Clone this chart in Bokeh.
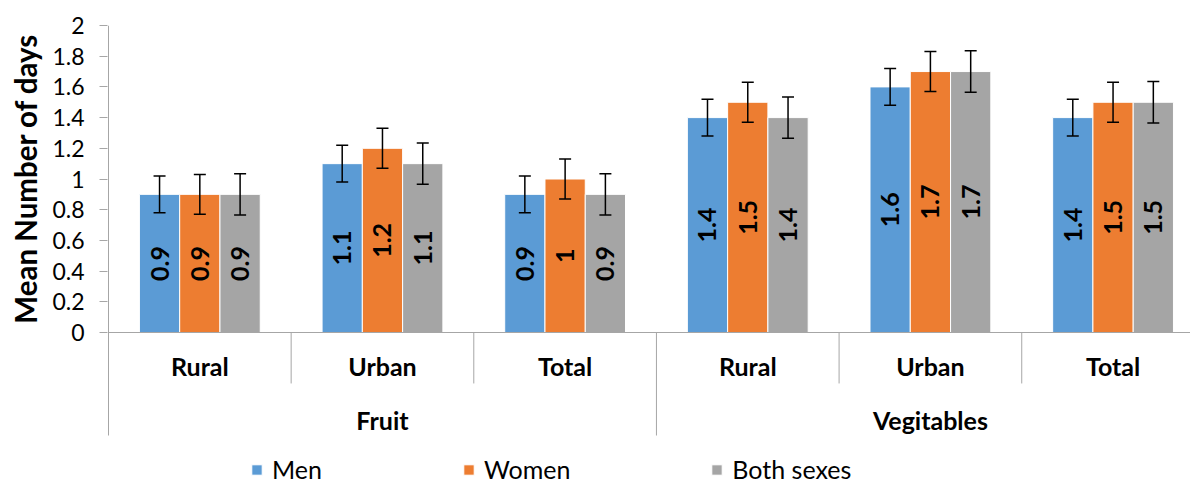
from bokeh.plotting import figure
from bokeh.models import (Range1d, ColumnDataSource, FixedTicker, Whisker, TeeHead,
                          Legend, LegendItem, Title)
from bokeh.core.properties import value
from bokeh.embed import file_html
from bokeh.resources import INLINE

# ---- data ----
categories = ["Rural", "Urban", "Total", "Rural", "Urban", "Total"]
groups = ["Fruit", "Vegitables"]
group_sizes = [3, 3]
series_names = ["Men", "Women", "Both sexes"]
men = [0.9, 1.1, 0.9, 1.4, 1.6, 1.4]
women = [0.9, 1.2, 1.0, 1.5, 1.7, 1.5]
both = [0.9, 1.1, 0.9, 1.4, 1.7, 1.5]
men_err = [0.12, 0.12, 0.12, 0.12, 0.12, 0.12]
women_err = [0.13, 0.13, 0.13, 0.13, 0.13, 0.13]
both_err = [0.135, 0.135, 0.135, 0.135, 0.135, 0.135]
y_ticks = [0, 0.2, 0.4, 0.6, 0.8, 1, 1.2, 1.4, 1.6, 1.8, 2]
y_title = "Mean Number of days"

colors = ["#5B9BD5", "#ED7D31", "#A5A5A5"]
FONT = "Lato"
AXIS_GREY = "#a6a6a6"

p = figure(width=1190, height=483, output_backend="svg", toolbar_location=None,
           x_range=Range1d(-0.0055, 5.924), y_range=Range1d(-0.9837, 2.0),
           min_border_left=106, min_border_top=25, min_border_right=0, min_border_bottom=0)
p.xaxis.visible = False
p.xgrid.visible = False
p.ygrid.visible = False
p.outline_line_color = None
p.background_fill_color = "white"

ax = p.yaxis[0]
ax.ticker = FixedTicker(ticks=y_ticks)
ax.major_label_overrides = {t: f"{t:g}" for t in y_ticks}
ax.axis_line_color = None
ax.major_tick_line_color = AXIS_GREY
ax.major_tick_out = 8
ax.major_tick_in = 0
ax.minor_tick_line_color = None
ax.major_label_text_font = FONT
ax.major_label_text_font_size = "23px"
ax.major_label_text_color = "black"
ax.major_label_standoff = 15

# y-axis title, aligned with the 0..2 value range (top end near the top of the axis)
p.add_layout(Title(text=y_title, align="right", offset=8, vertical_align="middle",
                   text_font=FONT, text_font_size="29.5px", text_font_style="bold",
                   text_color="black", standoff=12), "left")

n = len(categories)
pitch = 0.2205
offsets = [-pitch, 0.0, pitch]
series = [men, women, both]
errs = [men_err, women_err, both_err]

legend_items = []
for k, (vals, err) in enumerate(zip(series, errs)):
    xs = [i + 0.5 + offsets[k] for i in range(n)]
    src = ColumnDataSource(dict(
        x=xs, top=vals, mid=[v / 2 for v in vals],
        upper=[v + e for v, e in zip(vals, err)],
        lower=[v - e for v, e in zip(vals, err)],
        label=[f"{v:g}" for v in vals]))
    r = p.vbar(x="x", top="top", bottom=0, width=pitch, source=src,
               fill_color=colors[k], line_color="white", line_width=1)
    legend_items.append(LegendItem(label=series_names[k], renderers=[r]))
    p.add_layout(Whisker(source=src, base="x", upper="upper", lower="lower",
                         level="overlay", line_color="black", line_width=1.5,
                         upper_head=TeeHead(size=12, line_color="black", line_width=1.5),
                         lower_head=TeeHead(size=12, line_color="black", line_width=1.5)))
    p.text(x="x", y="mid", text="label", source=src, angle=1.5708,
           text_font=value(FONT), text_font_style="bold", text_font_size="25px",
           text_color="black", text_align="center", text_baseline="middle")

# axis lines & category separators
p.segment(x0=[0], y0=[0], x1=[n], y1=[0], line_color=AXIS_GREY, line_width=1)
p.segment(x0=[0], y0=[2], x1=[0], y1=[-0.671], line_color=AXIS_GREY, line_width=1)
bounds = []
acc = 0
for gs in group_sizes:
    for j in range(1, gs):
        bounds.append(acc + j)
    acc += gs
p.segment(x0=bounds, y0=[0] * len(bounds), x1=bounds, y1=[-0.332] * len(bounds),
          line_color=AXIS_GREY, line_width=1)
gb = [sum(group_sizes[:g + 1]) for g in range(len(group_sizes) - 1)]
p.segment(x0=gb, y0=[0] * len(gb), x1=gb, y1=[-0.671] * len(gb),
          line_color=AXIS_GREY, line_width=1)

# category labels
p.text(x=[i + 0.5 for i in range(n)], y=[-0.22] * n, text=categories,
       text_font=value(FONT), text_font_style="bold", text_font_size="25px",
       text_color="black", text_align="center", text_baseline="middle")
gc = []
acc = 0
for gs in group_sizes:
    gc.append(acc + gs / 2)
    acc += gs
p.text(x=gc, y=[-0.567] * len(gc), text=groups,
       text_font=value(FONT), text_font_style="bold", text_font_size="25px",
       text_color="black", text_align="center", text_baseline="middle")

legend = Legend(items=legend_items, orientation="horizontal", location=(143, -1),
                padding=0, margin=0, spacing=140, label_standoff=9,
                glyph_width=13, glyph_height=13, label_height=20,
                label_text_font=FONT, label_text_font_size="25px",
                label_text_color="black", border_line_color=None,
                background_fill_alpha=0)
p.add_layout(legend)

open("out.html", "w").write(file_html(p, INLINE))
